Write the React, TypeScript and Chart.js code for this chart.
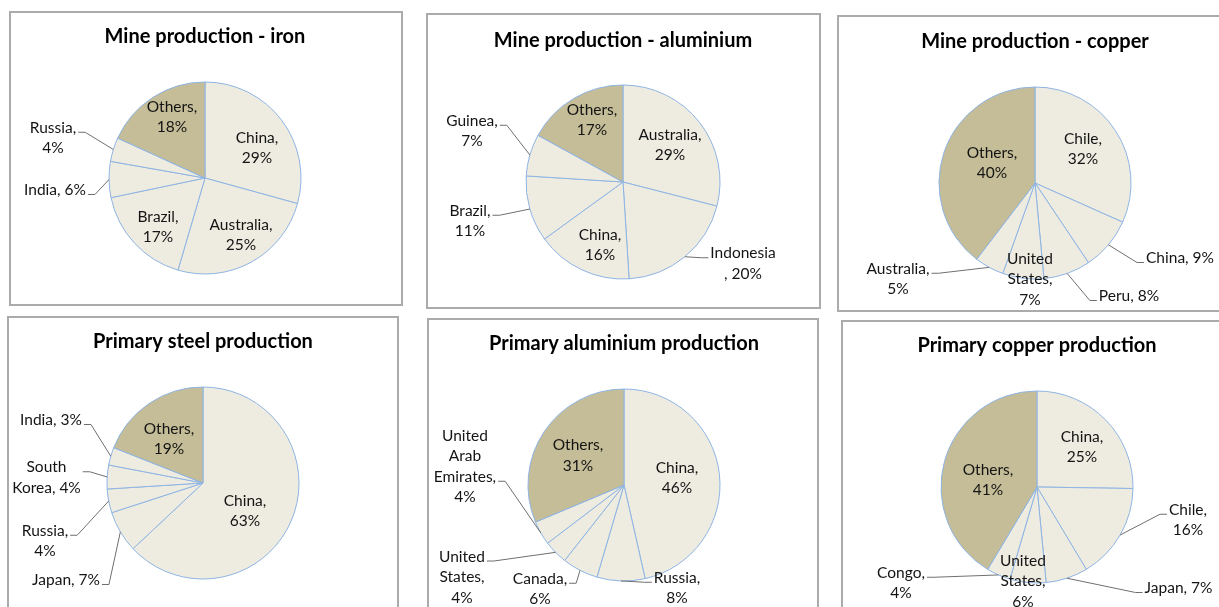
import React, { useEffect, useRef } from "react";
import { Chart, registerables } from "chart.js";

Chart.register(...registerables);

// ---------- data ----------
const ironCategories = ["China", "Australia", "Brazil", "India", "Russia", "Others"];
const ironValues = [29, 25, 17, 6, 4, 18];

const bauxiteCategories = ["Australia", "Indonesia", "China", "Brazil", "Guinea", "Others"];
const bauxiteValues = [29, 20, 16, 11, 7, 17];

const copperMineCategories = ["Chile", "China", "Peru", "United States", "Australia", "Others"];
const copperMineValues = [32, 9, 8, 7, 5, 40];

const steelCategories = ["China", "Japan", "Russia", "South Korea", "India", "Others"];
const steelValues = [63, 7, 4, 4, 3, 19];

const aluminiumCategories = ["China", "Russia", "Canada", "United States", "United Arab Emirates", "Others"];
const aluminiumValues = [46, 8, 6, 4, 4, 31];

const copperCategories = ["China", "Chile", "Japan", "United States", "Congo", "Others"];
const copperValues = [25, 16, 7, 6, 4, 41];

const titles = [
  "Mine production - iron",
  "Mine production - aluminium",
  "Mine production - copper",
  "Primary steel production",
  "Primary aluminium production",
  "Primary copper production",
];

// ---------- styles / layout ----------
const FONT = "Lato, 'Open Sans', sans-serif";
const LABEL_SIZE = 15.5;
const LINE_H = 20.5;
const TITLE_SIZE = 20;
const LIGHT = "#EEECE1";
const DARK = "#C4BD97";
const EDGE = "#8EB4E3";
const LEADER = "#6F6F6F";
const TEXT = "#141414";
const BORDER = 2;

type LabelSpec = { mode: "in" | "out" | "text"; fmt?: string; dx: number; dy: number; attach?: number };

// label placement relative to the pie centre (px)
const ironLabels: LabelSpec[] = [
  { mode: "in", dx: 52, dy: -30 },
  { mode: "in", dx: 36, dy: 57 },
  { mode: "in", dx: -47, dy: 49 },
  { mode: "out", fmt: "one", dx: -150, dy: 12, attach: 0 },
  { mode: "out", dx: -152, dy: -40, attach: 0 },
  { mode: "in", dx: -33, dy: -61 },
];
const bauxiteLabels: LabelSpec[] = [
  { mode: "in", dx: 47, dy: -37 },
  { mode: "out", fmt: "split", dx: 120, dy: 81.5, attach: 0 },
  { mode: "in", dx: -23, dy: 63 },
  { mode: "out", dx: -153, dy: 39, attach: 0 },
  { mode: "out", dx: -151, dy: -51, attach: 0 },
  { mode: "in", dx: -31, dy: -62 },
];
const copperMineLabels: LabelSpec[] = [
  { mode: "in", dx: 48, dy: -34 },
  { mode: "out", fmt: "one", dx: 145, dy: 75, attach: 0 },
  { mode: "out", fmt: "one", dx: 94, dy: 113, attach: 0 },
  { mode: "text", dx: -5, dy: 96 },
  { mode: "out", dx: -137, dy: 96, attach: 0 },
  { mode: "in", dx: -43, dy: -20 },
];
const steelLabels: LabelSpec[] = [
  { mode: "in", dx: 42, dy: 28 },
  { mode: "out", fmt: "one", dx: -137, dy: 97, attach: 0 },
  { mode: "out", dx: -158, dy: 58, attach: 0 },
  { mode: "out", fmt: "tail", dx: -156.5, dy: -5.5, attach: 0 },
  { mode: "out", fmt: "one", dx: -152, dy: -63, attach: 0 },
  { mode: "in", dx: -34, dy: -44 },
];
const aluminiumLabels: LabelSpec[] = [
  { mode: "in", dx: 53, dy: -7 },
  { mode: "out", dx: 53, dy: 103, attach: 0 },
  { mode: "out", dx: -84, dy: 104, attach: 0 },
  { mode: "out", dx: -162, dy: 92, attach: 0 },
  { mode: "out", dx: -159, dy: -18.5, attach: 2 },
  { mode: "in", dx: -46, dy: -29.5 },
];
const copperLabels: LabelSpec[] = [
  { mode: "in", dx: 45, dy: -40 },
  { mode: "out", dx: 151, dy: 33, attach: 0 },
  { mode: "out", fmt: "one", dx: 141.5, dy: 101, attach: 0 },
  { mode: "text", dx: -14, dy: 94 },
  { mode: "out", dx: -136, dy: 96, attach: 0 },
  { mode: "in", dx: -49, dy: -7 },
];

// panel boxes (page px) and pie geometry
const panels = [
  { left: 9, top: 11, w: 394, h: 295, cx: 205, cy: 178, r: 96, cats: ironCategories, vals: ironValues, labels: ironLabels },
  { left: 426, top: 13, w: 395, h: 296, cx: 623, cy: 182, r: 97, cats: bauxiteCategories, vals: bauxiteValues, labels: bauxiteLabels },
  { left: 837, top: 15, w: 400, h: 297, cx: 1035, cy: 183, r: 96, cats: copperMineCategories, vals: copperMineValues, labels: copperMineLabels },
  { left: 7, top: 316, w: 392, h: 310, cx: 203, cy: 483, r: 96, cats: steelCategories, vals: steelValues, labels: steelLabels },
  { left: 427, top: 318, w: 392, h: 310, cx: 624, cy: 485, r: 96, cats: aluminiumCategories, vals: aluminiumValues, labels: aluminiumLabels },
  { left: 841, top: 320, w: 400, h: 310, cx: 1037, cy: 487, r: 96, cats: copperCategories, vals: copperValues, labels: copperLabels },
];

function makeLines(name: string, v: number, fmt?: string): string[] {
  const pct = `${v}%`;
  const words = name.split(" ");
  const last = words[words.length - 1];
  switch (fmt) {
    case "one":
      return [`${name}, ${pct}`];
    case "tail":
      return [...words.slice(0, -1), `${last}, ${pct}`];
    case "split":
      return [name, `, ${pct}`];
    default:
      return [...words.slice(0, -1), `${last},`, pct];
  }
}

const sliceLabelPlugin = {
  id: "sliceLabels",
  afterDatasetsDraw(chart: any, _args: any, opts: any) {
    const { ctx } = chart;
    const meta = chart.getDatasetMeta(0);
    const values = chart.data.datasets[0].data as number[];
    const names = chart.data.labels as string[];
    const specs: LabelSpec[] = opts.specs;
    ctx.save();
    meta.data.forEach((arc: any, i: number) => {
      const { x, y, startAngle, endAngle, outerRadius } = arc.getProps(
        ["x", "y", "startAngle", "endAngle", "outerRadius"],
        true
      );
      if (i === 0) {
        ctx.font = `bold ${TITLE_SIZE}px ${FONT}`;
        ctx.fillStyle = "#000";
        ctx.textAlign = "center";
        ctx.textBaseline = "alphabetic";
        ctx.fillText(opts.title, x, y - 135);
      }
      const s = specs[i];
      const lines = makeLines(names[i], values[i], s.fmt);
      const lx = x + s.dx;
      const ly = y + s.dy;
      const n = lines.length;
      ctx.font = `${LABEL_SIZE}px ${FONT}`;
      ctx.fillStyle = TEXT;
      ctx.textAlign = "center";
      ctx.textBaseline = "middle";
      lines.forEach((t, k) => ctx.fillText(t, lx, ly + (k - (n - 1) / 2) * LINE_H));
      if (s.mode === "out") {
        const mid = (startAngle + endAngle) / 2;
        const ax = x + Math.cos(mid) * outerRadius;
        const ay = y + Math.sin(mid) * outerRadius;
        const w = Math.max(...lines.map((t) => ctx.measureText(t).width));
        const side = lx > x ? -1 : 1;
        const lineY = ly + ((s.attach ?? 0) - (n - 1) / 2) * LINE_H + 4.5;
        const ex = lx + side * (w / 2 + 2);
        const elbow = ex + side * 7;
        ctx.strokeStyle = LEADER;
        ctx.lineWidth = 1;
        ctx.beginPath();
        ctx.moveTo(ax, ay);
        ctx.lineTo(elbow, lineY);
        ctx.lineTo(ex, lineY);
        ctx.stroke();
      }
    });
    ctx.restore();
  },
};

function PiePanel({ p, title }: { p: (typeof panels)[number]; title: string }) {
  const ref = useRef<HTMLCanvasElement | null>(null);
  const cw = p.w - 2 * BORDER;
  const ch = p.h - 2 * BORDER;
  useEffect(() => {
    if (!ref.current) return;
    const cx = p.cx - p.left - BORDER;
    const cy = p.cy - p.top - BORDER;
    const half = p.r + 2;
    const chart = new Chart(ref.current, {
      type: "pie",
      data: {
        labels: p.cats,
        datasets: [
          {
            data: p.vals,
            backgroundColor: p.cats.map((c) => (c === "Others" ? DARK : LIGHT)),
            borderColor: EDGE,
            borderWidth: 1,
            radius: p.r,
          } as any,
        ],
      },
      options: {
        responsive: false,
        animation: false,
        events: [],
        layout: {
          padding: {
            left: cx - half,
            right: cw - cx - half,
            top: cy - half,
            bottom: ch - cy - half,
          },
        },
        plugins: {
          legend: { display: false },
          tooltip: { enabled: false },
          title: { display: false },
          sliceLabels: { specs: p.labels, title },
        } as any,
      },
      plugins: [sliceLabelPlugin],
    });
    return () => chart.destroy();
  }, []);
  return (
    <div
      style={{
        position: "absolute",
        left: p.left,
        top: p.top,
        width: p.w,
        height: p.h,
        boxSizing: "border-box",
        border: `${BORDER}px solid #ABABAB`,
        background: "#fff",
      }}
    >
      <canvas ref={ref} width={cw} height={ch} style={{ display: "block", width: cw, height: ch }} />
    </div>
  );
}

export default function App() {
  return (
    <div
      style={{
        position: "fixed",
        left: 0,
        top: 0,
        width: 1219,
        height: 607,
        overflow: "hidden",
        background: "#fff",
      }}
    >
      {panels.map((p, i) => (
        <PiePanel key={i} p={p} title={titles[i]} />
      ))}
    </div>
  );
}
